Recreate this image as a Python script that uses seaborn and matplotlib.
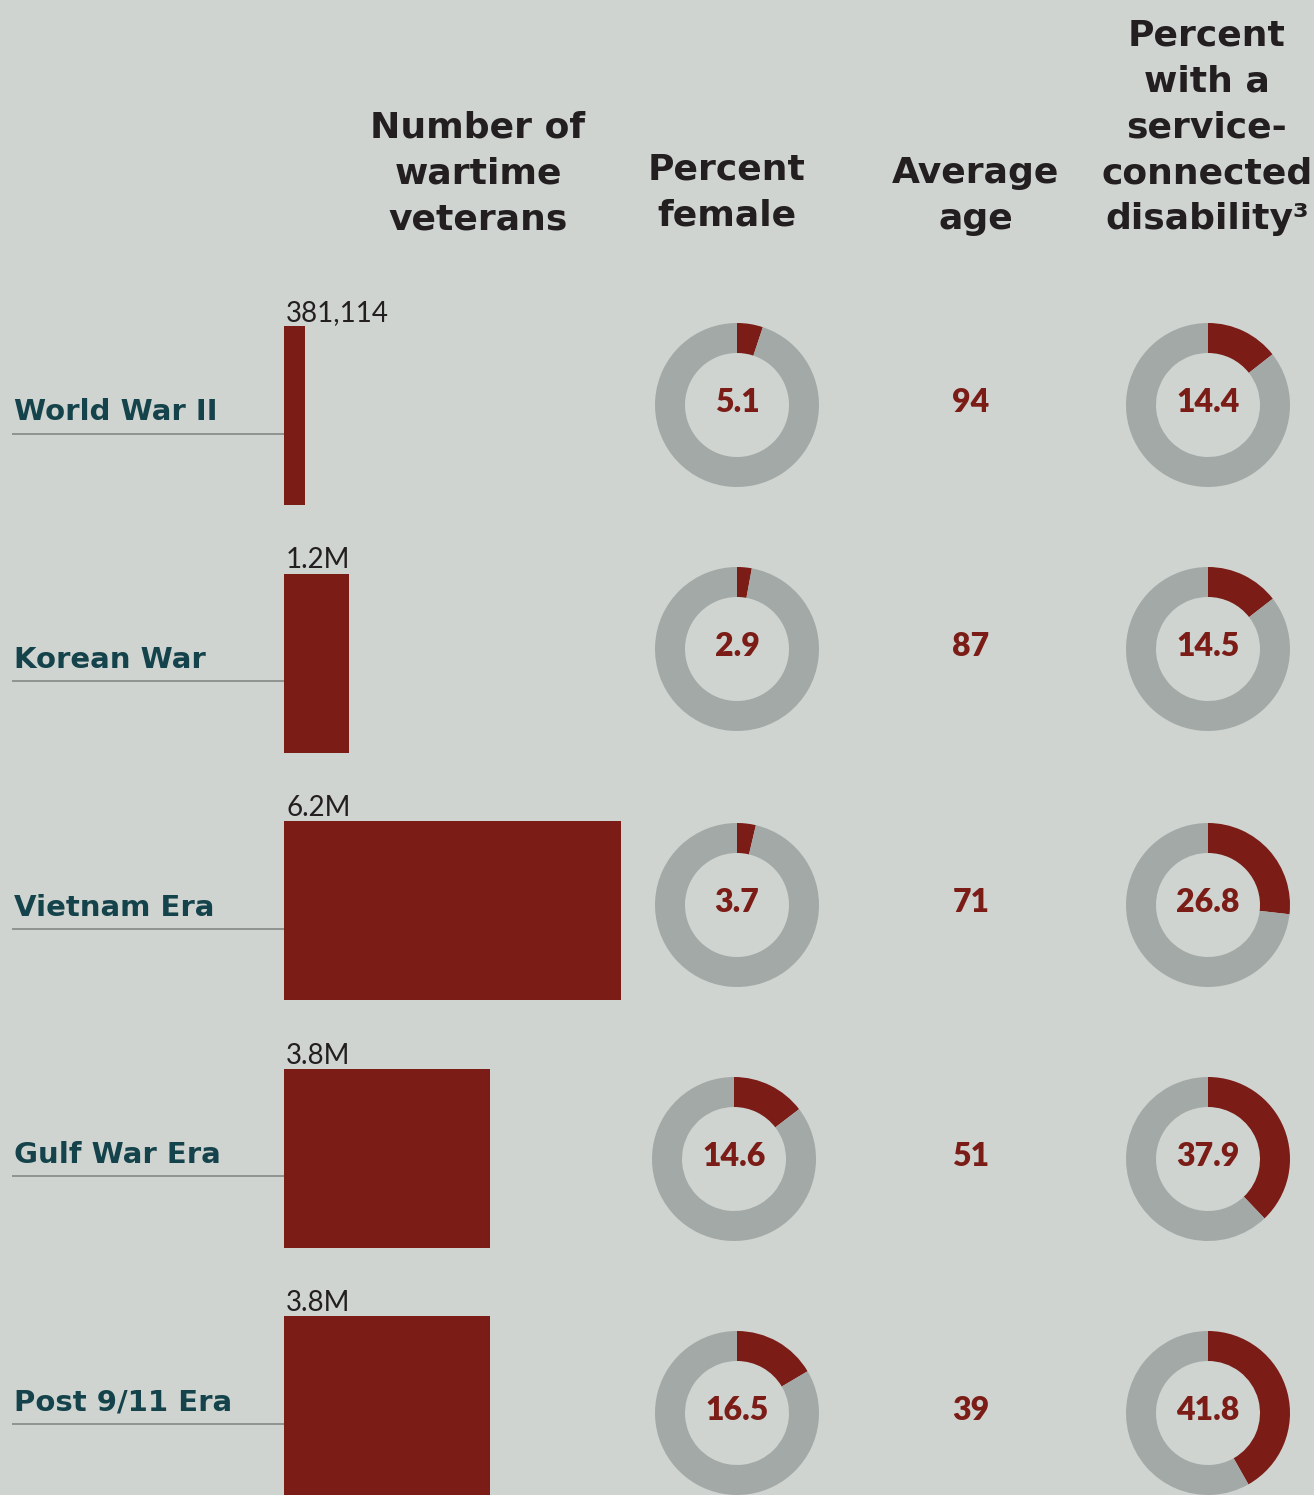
import numpy as np
import pandas as pd
import matplotlib
matplotlib.use("Agg")
import matplotlib.pyplot as plt
import seaborn as sns

# ---------------- data ----------------
eras = ["World War II", "Korean War", "Vietnam Era", "Gulf War Era", "Post 9/11 Era"]
veterans_millions = [0.381114, 1.2, 6.2, 3.8, 3.8]
veteran_labels = ["381,114", "1.2M", "6.2M", "3.8M", "3.8M"]
percent_female = [5.1, 2.9, 3.7, 14.6, 16.5]
average_age = [94, 87, 71, 51, 39]
percent_disability = [14.4, 14.5, 26.8, 37.9, 41.8]

header_veterans = ["Number of", "wartime", "veterans"]
header_female = ["Percent", "female"]
header_age = ["Average", "age"]
header_disability = ["Percent", "with a", "service-", "connected", "disability\u00b3"]

# ---------------- style ----------------
BG = "#cfd4d0"
RED = "#7b1c17"
GREY = "#a2a9a7"
TEAL = "#15434b"
DARK = "#231f20"
RULE = "#7f8380"

sns.set_style("white")
plt.rcParams["font.family"] = ["DejaVu Sans"]

W, H = 1314, 1495
BAR_X0 = 284.0
PX_PER_M = 54.3
ROW0 = 415.5
ROW_STEP = 247.5
BAR_H = 179.0

def fx(x):
    return x / W

def fy(y):
    return 1 - y / H

fig = plt.figure(figsize=(W / 100, H / 100), dpi=100, facecolor=BG)

# ---------------- bars ----------------
df = pd.DataFrame({"era": eras, "veterans": veterans_millions})
ax = fig.add_axes([0, 0, 1, 1])
ax.set_facecolor("none")
sns.barplot(data=df, x="veterans", y="era", orient="h", color=RED, saturation=1,
            width=BAR_H / ROW_STEP, linewidth=0, ax=ax)
ax.set_xlim(-BAR_X0 / PX_PER_M, (W - BAR_X0) / PX_PER_M)
ax.set_ylim((H - ROW0) / ROW_STEP, -ROW0 / ROW_STEP)
ax.axis("off")

half = BAR_H / ROW_STEP / 2
for i, (era, lab) in enumerate(zip(eras, veteran_labels)):
    # value label above the bar
    ax.text(2 / PX_PER_M, i - half - 5 / ROW_STEP, lab, ha="left", va="baseline",
            fontsize=20, color=DARK, family="Lato", fontweight="normal")
    # category label with underline
    ax.text((14 - BAR_X0) / PX_PER_M, i + 5 / ROW_STEP, era, ha="left", va="baseline",
            fontsize=21, fontweight="bold", color=TEAL)
ax.hlines(np.arange(len(eras)) + 18 / ROW_STEP, (12 - BAR_X0) / PX_PER_M, 0,
          color=RULE, lw=1.1)

# ---------------- donuts ----------------
R = 82.0
RING = 30.0
donut_y = [405, 649, 905, 1159, 1413]
female_x = [737, 737, 737, 734, 737]
disab_x = 1208
age_x = 971

def donut(cx, cy, value):
    dax = fig.add_axes([fx(cx - R), fy(cy + R), 2 * R / W, 2 * R / H])
    dax.pie([value, 100 - value], colors=[RED, GREY], startangle=90, counterclock=False,
            radius=1, wedgeprops=dict(width=RING / R, linewidth=0))
    dax.set_xlim(-1, 1)
    dax.set_ylim(-1, 1)
    dax.set_axis_off()
    fig.text(fx(cx), fy(cy - 3), f"{value:.1f}", ha="center", va="center",
             fontsize=23, fontweight="heavy", color=RED, family="Lato")

for i in range(len(eras)):
    donut(female_x[i], donut_y[i], percent_female[i])
    donut(disab_x, donut_y[i], percent_disability[i])
    fig.text(fx(age_x), fy(donut_y[i] - 3), f"{average_age[i]}", ha="center", va="center",
             fontsize=23, fontweight="heavy", color=RED, family="Lato")

# ---------------- headers ----------------
def header(lines, cx, first_baseline):
    for k, line in enumerate(lines):
        fig.text(fx(cx), fy(first_baseline + 46 * k), line, ha="center", va="baseline",
                 fontsize=26, fontweight="bold", color=DARK)

header(header_veterans, 478, 137)
header(header_female, 726.5, 180)
header(header_age, 975.5, 183)
header(header_disability, 1207, 45)

fig.savefig("out.png", dpi=100, facecolor=BG)
